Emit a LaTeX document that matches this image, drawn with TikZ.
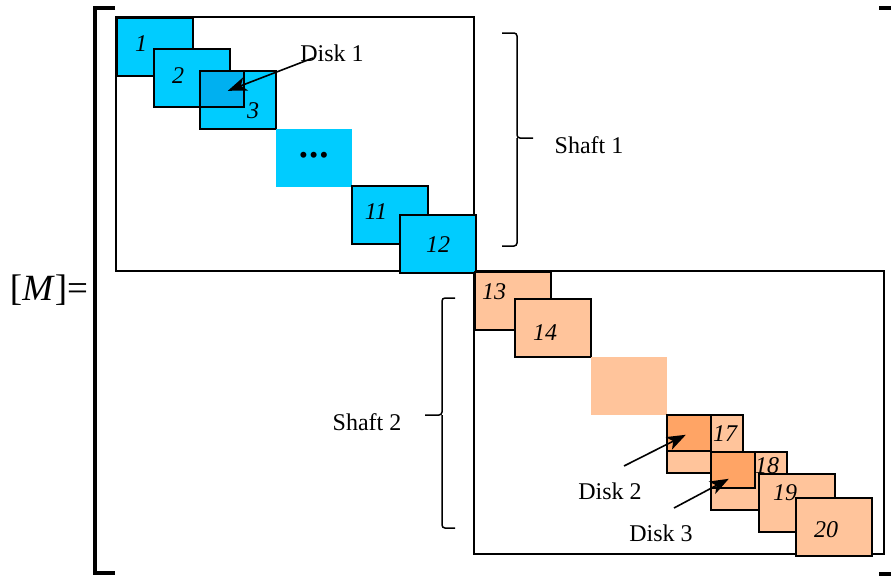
\documentclass[tikz,border=0pt]{standalone}
\usepackage{fontspec}
\setmainfont{Liberation Serif}
\usepackage{tikz}
\usetikzlibrary{arrows.meta,calc}
\definecolor{cyanblk}{HTML}{00CCFF}
\definecolor{cyandisk}{HTML}{00B0F0}
\definecolor{peach}{HTML}{FFC49B}
\definecolor{peachdisk}{HTML}{FFA465}

\begin{document}
\begin{tikzpicture}[x=1pt,y=-1pt,>={Stealth[length=19pt,width=14pt,inset=5pt]},
  every node/.style={font=\fontsize{24}{28}\selectfont,inner sep=0pt},
  blk/.style={draw,line width=1.6pt,anchor=north west,minimum width=76pt,minimum height=58pt},
  dsk/.style={draw,line width=1.6pt,anchor=north west,minimum width=44pt,minimum height=36pt},
  num/.style={font=\fontsize{24}{28}\selectfont\itshape},
  brc/.style={line width=1.5pt,rounded corners=3pt},
  arr/.style={->,line width=1.6pt}]
\useasboundingbox (0,0) rectangle (891,576);
\draw[line width=3.2pt] (115,8) -- (95,8) -- (95,573) -- (115,573);
\draw[line width=3.2pt] (879,8) -- (895,8) -- (895,574) -- (879,574);
\node[font=\fontsize{37}{40}\selectfont] (mat) at (49,290) {[\textit{M}]=};
\draw[line width=1.3pt] (116,17) rectangle (474,271);
\draw[line width=1.3pt] (474,271) rectangle (884,554);
\node[blk,fill=cyanblk] (b1) at (116,17) {};
\node[num] (n1) at (141,44) {1};
\node[blk,fill=cyanblk] (b2) at (153,48) {};
\node[num] (n2) at (178,76) {2};
\node[blk,fill=cyanblk] (b3) at (199,70) {};
\node[num] (n3) at (253,111) {3};
\node[dsk,fill=cyandisk] (d1) at (199,70) {};
\node[blk,draw=none,fill=cyanblk,font=\fontsize{25}{28}\selectfont] (bdots) at (275,128) {\textbullet\hspace{1.5pt}\textbullet\hspace{1.5pt}\textbullet};
\node[blk,fill=cyanblk] (b11) at (351,185) {};
\node[num] (n11) at (376,212) {11};
\node[blk,fill=cyanblk] (b12) at (399,214) {};
\node[num] (n12) at (438,245) {12};
\node[blk,fill=peach] (b13) at (474,271) {};
\node[num] (n13) at (494,292) {13};
\node[blk,fill=peach] (b14) at (514,298) {};
\node[num] (n14) at (545,333) {14};
\node[blk,draw=none,fill=peach] (bgap) at (590,356) {};
\node[blk,fill=peach] (b17) at (666,414) {};
\node[num] (n17) at (725,434) {17};
\node[dsk,fill=peachdisk] (d2) at (666,414) {};
\node[blk,fill=peach] (b18) at (710,451) {};
\node[dsk,fill=peachdisk] (d3) at (710,451) {};
\node[num] (n18) at (767,466) {18};
\node[blk,fill=peach] (b19) at (758,473) {};
\node[num] (n19) at (785,493) {19};
\node[blk,fill=peach] (b20) at (795,497) {};
\node[num] (n20) at (826,530) {20};
\node (dl1) at (332,53) {Disk 1};
\node (dl2) at (610,491) {Disk 2};
\node (dl3) at (661,533) {Disk 3};
\draw[arr] ([xshift=-19pt,yshift=-5pt]dl1.center) -- ([xshift=6pt,yshift=-2pt]d1.center);
\draw[arr] ([xshift=14pt,yshift=25pt]dl2.center) -- ([xshift=-3pt,yshift=-2pt]d2.center);
\draw[arr] ([xshift=13pt,yshift=25pt]dl3.center) -- ([xshift=-4pt,yshift=-9pt]d3.center);
\draw[brc] (502,33) -| (517,138) -- (533,138);
\draw[brc] (517,138) |- (502,246);
\node (s1) at (589,145) {Shaft 1};
\draw[brc] (455,298) -| (442,415) -- (425,415);
\draw[brc] (442,415) |- (455,528);
\node (s2) at (367,422) {Shaft 2};
\end{tikzpicture}
\end{document}
